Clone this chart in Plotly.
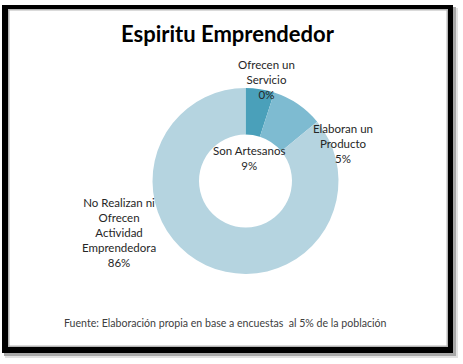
import plotly.graph_objects as go

W, H = 463, 364

# ---- data ----
categories = ["Ofrecen un Servicio", "Elaboran un Producto", "Son Artesanos",
              "No Realizan ni Ofrecen Actividad Emprendedora"]
display_labels = ["Ofrecen un<br>Servicio", "Elaboran un<br>Producto", "Son Artesanos",
                  "No Realizan ni<br>Ofrecen<br>Actividad<br>Emprendedora"]
values = [0, 5, 9, 86]
title_text = "Espiritu Emprendedor"
source_text = "Fuente: Elaboración propia en base a encuestas  al 5% de la población"

# ---- styling ----
colors = ["#2F8AA6", "#4AA0BA", "#7EBBD1", "#B5D4E0"]
label_pos = [(266, 79), (343, 144), (249, 158), (119, 233)]  # pixel centers


def px(x):
    return x / W


def py(y):
    return 1 - y / H


def rect(x0, y0, x1, y1, color):
    return dict(type="rect", xref="paper", yref="paper", x0=px(x0), x1=px(x1),
                y0=py(y1), y1=py(y0), fillcolor=color, line=dict(width=0), layer="below")


fig = go.Figure()
cx, cy, r = 245.5, 181, 93
fig.add_trace(go.Pie(
    labels=categories,
    values=values,
    hole=0.5,
    sort=False,
    direction="clockwise",
    rotation=0,
    marker=dict(colors=colors, line=dict(width=0)),
    textinfo="none",
    hoverinfo="label+percent",
    showlegend=False,
    domain=dict(x=[px(cx - r), px(cx + r)], y=[py(cy + r), py(cy - r)]),
))

total = sum(values)
annotations = []
for lab, v, (x, y) in zip(display_labels, values, label_pos):
    annotations.append(dict(
        x=px(x), y=py(y), xref="paper", yref="paper",
        text=f"{lab}<br>{round(100 * v / total)}%",
        showarrow=False, xanchor="center", yanchor="middle",
        font=dict(family="Lato", size=11.5, color="#262626"),
    ))
annotations.append(dict(
    x=px(228), y=py(33), xref="paper", yref="paper", text=f"<b>{title_text}</b>",
    showarrow=False, xanchor="center", yanchor="middle",
    font=dict(family="Lato", size=22, color="#000000"),
))
annotations.append(dict(
    x=px(225), y=py(323), xref="paper", yref="paper", text=source_text,
    showarrow=False, xanchor="center", yanchor="middle",
    font=dict(family="Lato", size=10.6, color="#404040"),
))

shapes = [
    rect(5, 8, 458, 358, "#E2E2E2"),      # soft outer shadow
    rect(4, 7, 456, 356, "#A8A8A8"),      # inner shadow
    rect(2, 5, 453, 353, "#000000"),      # black frame
    rect(8, 9, 448, 347, "#B4B4B4"),      # grey inner edge
    rect(9.5, 10.5, 446.5, 345.5, "#FFFFFF"),  # white chart area
]

fig.update_layout(
    width=W, height=H,
    margin=dict(l=0, r=0, t=0, b=0),
    paper_bgcolor="#FFFFFF",
    plot_bgcolor="#FFFFFF",
    annotations=annotations,
    shapes=shapes,
)
fig.write_html("out.html", config={"displayModeBar": False},
               post_script="document.body.style.margin='0';")
